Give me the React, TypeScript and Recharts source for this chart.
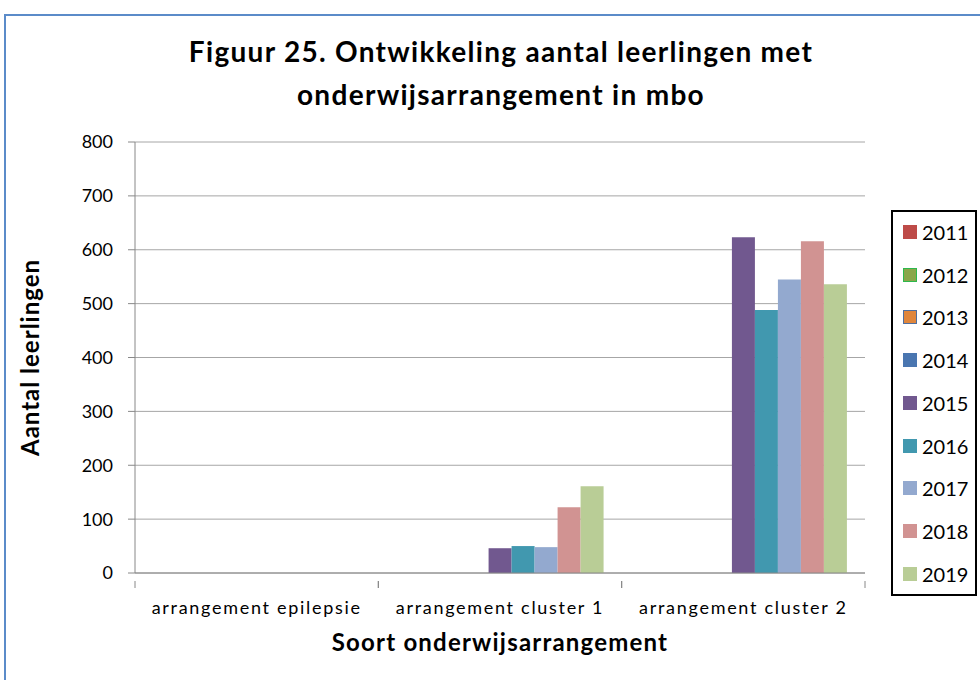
import React from "react";
import { BarChart, Bar, XAxis, YAxis, CartesianGrid } from "recharts";

const categories = ["arrangement epilepsie", "arrangement cluster 1", "arrangement cluster 2"];
const years = ["2011", "2012", "2013", "2014", "2015", "2016", "2017", "2018", "2019"];
const v2011 = [null, null, null];
const v2012 = [null, null, null];
const v2013 = [null, null, null];
const v2014 = [null, null, null];
const v2015 = [null, 46, 623];
const v2016 = [null, 50, 488];
const v2017 = [null, 48, 545];
const v2018 = [null, 122, 616];
const v2019 = [null, 161, 536];
const yTicks = [0, 100, 200, 300, 400, 500, 600, 700, 800];

const seriesValues = [v2011, v2012, v2013, v2014, v2015, v2016, v2017, v2018, v2019];
const fills = ["#be4b48", "#8aa64a", "#e0863c", "#4a76b0", "#71588f", "#4198af", "#93a9cf", "#d19392", "#b9cd96"];
const borders = ["#be4b48", "#2db84d", "#4f6fa0", "#4a76b0", "#71588f", "#4198af", "#93a9cf", "#d19392", "#b9cd96"];

const data = categories.map((name, i) => {
  const row: Record<string, string | number | null> = { name };
  years.forEach((y, j) => {
    row[y] = seriesValues[j][i];
  });
  return row;
});

const FONT = "Lato, 'Open Sans', sans-serif";
const PLOT_LEFT = 135;
const PLOT_RIGHT = 865;
const BAND = (PLOT_RIGHT - PLOT_LEFT) / categories.length;

function CategoryTick(props: any) {
  const { x, y, payload } = props;
  return (
    <g>
      <line x1={x - BAND / 2} y1={y} x2={x - BAND / 2} y2={y + 7} stroke="#888" />
      <line x1={x + BAND / 2} y1={y} x2={x + BAND / 2} y2={y + 7} stroke="#888" />
      <text
        x={x}
        y={y + 33}
        textAnchor="middle"
        fontSize={18}
        fontFamily={FONT}
        fill="#000"
        style={{ letterSpacing: "1.7px" }}
      >
        {payload.value}
      </text>
    </g>
  );
}

export default function App() {
  return (
    <div style={{ position: "absolute", left: 0, top: 0, width: 980, height: 680, overflow: "hidden", background: "#fff" }}>
      <div
        style={{
          position: "absolute",
          left: 4,
          top: 14,
          width: 1000,
          height: 700,
          border: "2px solid #5b8bc9",
          boxSizing: "border-box",
        }}
      />
      <div
        style={{
          position: "absolute",
          left: 0,
          top: 30,
          width: 1002,
          textAlign: "center",
          fontFamily: FONT,
          fontWeight: 700,
          fontSize: 28,
          letterSpacing: "1.3px",
          lineHeight: "43px",
          color: "#000",
        }}
      >
        Figuur 25. Ontwikkeling aantal leerlingen met
        <br />
        onderwijsarrangement in mbo
      </div>
      <div style={{ position: "absolute", left: 0, top: 0 }}>
        <BarChart
          width={980}
          height={680}
          data={data}
          margin={{ top: 142, right: 980 - PLOT_RIGHT, bottom: 27, left: 15 }}
          barCategoryGap="7.5%"
          barGap={0}
        >
          <CartesianGrid vertical={false} stroke="#a6a6a6" />
          <XAxis
            dataKey="name"
            height={80}
            tick={<CategoryTick />}
            tickLine={false}
            axisLine={{ stroke: "#888" }}
            interval={0}
            label={{
              value: "Soort onderwijsarrangement",
              position: "insideBottom",
              offset: 2,
              style: { fontFamily: FONT, fontWeight: 700, fontSize: 24, letterSpacing: "1.2px", fill: "#000" },
            }}
          />
          <YAxis
            width={PLOT_LEFT - 15}
            domain={[0, 800]}
            ticks={yTicks}
            interval={0}
            tickSize={7}
            tickMargin={15}
            tick={{ fontFamily: FONT, fontSize: 18, fill: "#000" }}
            tickLine={{ stroke: "#888" }}
            axisLine={{ stroke: "#888" }}
            label={{
              value: "Aantal leerlingen",
              angle: -90,
              position: "insideLeft",
              offset: 15,
              style: { textAnchor: "middle", fontFamily: FONT, fontWeight: 700, fontSize: 24, letterSpacing: "1px", fill: "#000" },
            }}
          />
          {years.map((y, j) => (
            <Bar key={y} dataKey={y} fill={fills[j]} isAnimationActive={false} />
          ))}
        </BarChart>
      </div>
      <div
        style={{
          position: "absolute",
          left: 891,
          top: 210,
          width: 86,
          height: 386,
          border: "2px solid #000",
          boxSizing: "border-box",
          fontFamily: FONT,
          fontSize: 20,
          color: "#000",
        }}
      >
        {years.map((y, j) => (
          <div
            key={y}
            style={{ position: "absolute", left: 10, top: 8 + j * 42.7, height: 24, display: "flex", alignItems: "center" }}
          >
            <span
              style={{
                display: "inline-block",
                width: 12,
                height: 12,
                background: fills[j],
                border: `1px solid ${borders[j]}`,
                marginRight: 5,
              }}
            />
            {y}
          </div>
        ))}
      </div>
    </div>
  );
}
